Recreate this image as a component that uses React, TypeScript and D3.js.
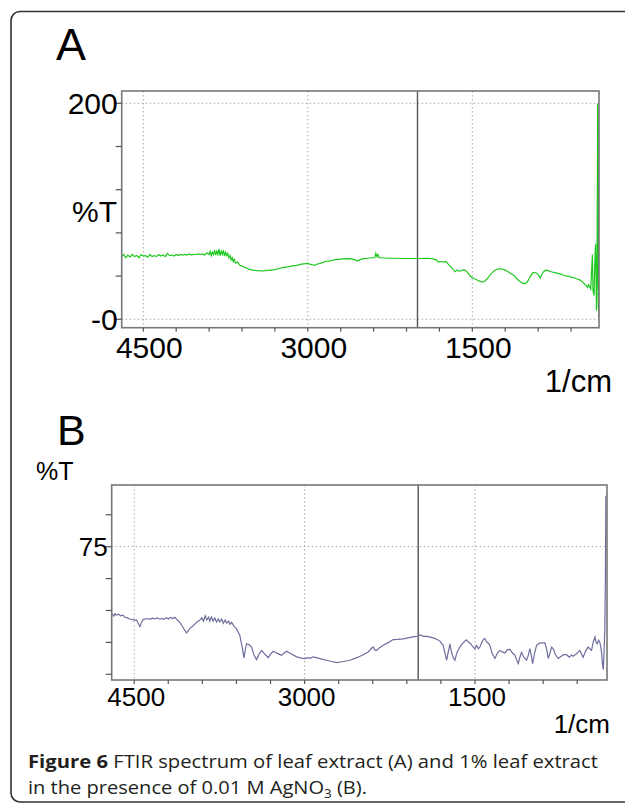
import React from "react";
import * as d3 from "d3";

// FTIR spectrum A (leaf extract) - wavenumber (1/cm) and %T
const aWave = [4700, 4680, 4660, 4640, 4620, 4600, 4580, 4560, 4540, 4520, 4500, 4480, 4460, 4440, 4420, 4400, 4380, 4360, 4340, 4320,
  4300, 4280, 4260, 4240, 4220, 4200, 4180, 4160, 4140, 4120, 4100, 4080, 4060, 4040, 4020, 4000, 3980, 3960, 3940, 3920,
  3900, 3890, 3880, 3870, 3860, 3850, 3840, 3830, 3820, 3810, 3800, 3790, 3780, 3770, 3760, 3750, 3740, 3730, 3720, 3710,
  3700, 3690, 3680, 3670, 3660, 3640, 3620, 3600, 3580, 3560, 3540, 3520, 3500, 3460, 3420, 3380, 3340, 3300, 3260, 3220,
  3180, 3140, 3100, 3060, 3020, 3000, 2980, 2960, 2940, 2920, 2880, 2840, 2800, 2760, 2720, 2680, 2640, 2600, 2570, 2550,
  2530, 2500, 2460, 2420, 2390, 2380, 2370, 2360, 2350, 2320, 2280, 2200, 2100, 2000, 1900, 1860, 1830, 1810, 1790, 1760,
  1740, 1720, 1700, 1680, 1660, 1640, 1620, 1600, 1580, 1560, 1540, 1520, 1500, 1470, 1440, 1410, 1390, 1360, 1330, 1300,
  1270, 1240, 1210, 1180, 1150, 1120, 1090, 1060, 1030, 1010, 990, 970, 950, 930, 910, 890, 880, 870, 850, 830,
  810, 780, 740, 700, 660, 640, 620, 600, 570, 550, 520, 500, 480, 460, 450, 440, 430, 420, 410, 405,
  400, 395, 390, 385, 380, 376, 372, 368, 364, 360, 357, 355, 353, 351, 349, 347];
const aT = [58, 60, 57, 59.5, 57.5, 60, 58, 59, 57, 60, 58.5, 59, 57.5, 60, 58, 59, 58, 60, 58.5, 59.5,
  58, 61, 59, 59.5, 58.5, 60, 59, 60, 59.5, 60, 59.5, 60.5, 59.5, 60, 60, 60.5, 60, 60.5, 59.5, 61.5,
  60, 63, 59, 62, 60, 64, 59.5, 63, 60, 65, 59, 63, 60, 64, 58.5, 62, 59, 61, 57, 59,
  55, 57, 53.5, 55.5, 52, 53, 50, 49.5, 48, 47.5, 46.5, 46, 45.5, 45, 44.8, 45, 45.5, 46, 47, 48,
  48.5, 49.5, 50, 51, 51.5, 51.8, 51, 50.5, 50, 51, 52, 53.5, 54, 55, 55.5, 56, 56.2, 56, 55, 54,
  55, 56, 56.5, 57, 57, 61, 58, 60, 57, 57, 56.5, 56.5, 56.3, 56.3, 56.5, 56, 55, 53, 53.5, 53,
  53.5, 51, 49, 47, 44, 45.5, 44.5, 45, 46, 45, 43, 40, 38.5, 37, 35.5, 34.5, 35, 38, 42, 45,
  46.5, 46.8, 46, 44.5, 42.5, 40.5, 37, 34.5, 33, 33.5, 36, 40, 43, 43.5, 42.5, 40, 38, 41, 44, 45.5,
  45, 44, 43, 42, 40.5, 40, 40, 39, 38.5, 37.5, 36.5, 35, 33, 31, 29.5, 32, 30, 28, 50, 60,
  27, 24, 22, 45, 62, 70, 40, 8, 30, 120, 200, 30, 195, 10, 150, 2];

// FTIR spectrum B (1% leaf extract + 0.01 M AgNO3)
const bWave = [4700, 4690, 4680, 4670, 4660, 4640, 4620, 4600, 4580, 4560, 4540, 4520, 4500, 4480, 4465, 4450, 4435, 4420, 4400, 4380,
  4360, 4340, 4320, 4300, 4280, 4260, 4240, 4215, 4200, 4180, 4160, 4142, 4120, 4098, 4070, 4039, 4010, 3981, 3950, 3922,
  3905, 3890, 3875, 3860, 3845, 3834, 3820, 3805, 3790, 3775, 3760, 3746, 3730, 3715, 3700, 3685, 3670, 3655, 3643, 3620,
  3599, 3570, 3550, 3534, 3520, 3511, 3490, 3467, 3445, 3423, 3400, 3379, 3350, 3320, 3300, 3276, 3240, 3203, 3180, 3159,
  3120, 3070, 3030, 2997, 2970, 2950, 2924, 2880, 2840, 2806, 2760, 2718, 2660, 2601, 2540, 2484, 2440, 2410, 2396, 2380,
  2366, 2340, 2308, 2260, 2220, 2180, 2132, 2100, 2058, 2020, 2000, 1985, 1950, 1920, 1897, 1860, 1830, 1809, 1795, 1780,
  1765, 1750, 1735, 1721, 1705, 1690, 1677, 1660, 1633, 1610, 1590, 1574, 1555, 1540, 1520, 1501, 1485, 1470, 1457, 1440,
  1425, 1413, 1395, 1380, 1369, 1350, 1325, 1300, 1281, 1260, 1237, 1215, 1193, 1170, 1149, 1135, 1120, 1105, 1090, 1070,
  1046, 1030, 1017, 1005, 993, 975, 958, 935, 910, 885, 870, 856, 840, 826, 810, 795, 768, 740, 720, 694,
  670, 650, 636, 610, 590, 577, 562, 548, 525, 504, 490, 474, 460, 444, 434, 424, 412, 401, 393, 386,
  378, 371, 364, 357, 352, 348, 345];
const bT = [43.6, 43, 42.3, 43.5, 42.8, 43.2, 42.5, 42.8, 41.8, 41.5, 41, 40.8, 40.5, 40.6, 39, 37.4, 39.5, 40.8, 41, 41.2,
  40.8, 41.4, 41, 41.5, 41, 41.2, 40.8, 41.6, 41, 41.7, 41.2, 41.8, 40.5, 39.4, 37, 34.4, 36.5, 37.8, 39.5, 40.5,
  41.5, 40, 42.5, 40.5, 41.8, 40, 42, 40, 41.5, 39.5, 41, 39.7, 41, 39, 40.5, 39, 40, 38.5, 39.4, 37.5,
  36.3, 33.2, 28, 22.7, 27, 29.3, 29, 27.8, 24, 21.9, 24.5, 26.2, 24.5, 22.8, 24.5, 25.8, 24.8, 23.9, 25, 25.8,
  24.6, 23.2, 22.6, 22.4, 22.8, 22.5, 23.2, 22.6, 22, 21.6, 21, 20.5, 21, 21.6, 22.8, 24.2, 25.5, 27.2, 27.8, 26.2,
  26.2, 27.5, 28.6, 30, 31.3, 31.4, 31.6, 32, 32.5, 32.8, 33, 33.5, 32.8, 32.8, 32.5, 32, 31.2, 30.6, 29.5, 28.6,
  25, 21.6, 25.5, 29.3, 25, 22.5, 21.6, 25, 27.8, 29.5, 30.5, 31.2, 30, 29.5, 28, 27, 28.5, 27, 27.8, 30,
  31.5, 31.7, 30, 29.5, 28.6, 25, 22.4, 25.2, 26.2, 25.5, 25, 26.5, 26.8, 25, 24, 22, 20, 23, 25.3, 23,
  21.6, 24, 27, 24, 20, 25, 28.6, 29.5, 29.8, 29.8, 27, 22.4, 25, 27.8, 27, 24.5, 22.4, 23.5, 24.2, 24.2,
  23, 24, 23.5, 24.5, 25.5, 26.2, 24.5, 23, 26, 27.8, 27, 26.2, 30, 32.5, 30, 29.3, 31, 30, 28, 25.3,
  20, 17.2, 25, 36.9, 60, 99, 98];

const aYTicks = [0, 40, 80, 120, 160, 200];
const aYLabels = [{ v: 200, t: "200" }, { v: 0, t: "-0" }];
const bYTicks = [15, 30, 45, 60, 75, 90];
const bYLabels = [{ v: 75, t: "75" }];
const xTicks = [4500, 4200, 3900, 3600, 3300, 3000, 2700, 2400, 2100, 1800, 1500, 1200, 900, 600];
const xLabels = [4500, 3000, 1500];
const cursorAt = 2000;

const font = "'Liberation Sans', Arial, sans-serif";

type PanelProps = {
  id: string;
  wave: number[];
  t: number[];
  color: string;
  box: { x0: number; x1: number; y0: number; y1: number };
  xDomain: [number, number];
  yDomain: [number, number];
  yTicks: number[];
  yLabels: { v: number; t: string }[];
  yGrid: number[];
  labelSize: number;
  xLabelDx: number;
  xLabelY: number;
};

function Panel(p: PanelProps) {
  const x = d3.scaleLinear().domain(p.xDomain).range([p.box.x0, p.box.x1]);
  const y = d3.scaleLinear().domain(p.yDomain).range([p.box.y1, p.box.y0]);
  const pts = p.wave.map((w, i) => [w, p.t[i]] as [number, number]);
  const line = d3.line<[number, number]>().x(d => x(d[0])).y(d => y(d[1]));
  const { x0, x1, y0, y1 } = p.box;
  return (
    <g>
      <defs>
        <clipPath id={"clip" + p.id}>
          <rect x={x0} y={y0} width={x1 - x0} height={y1 - y0} />
        </clipPath>
      </defs>
      {/* dotted grid */}
      {xLabels.map(v => (
        <line key={"gx" + v} x1={x(v)} x2={x(v)} y1={y0} y2={y1} stroke="#aaa" strokeWidth={1} strokeDasharray="1.5,2.5" />
      ))}
      {p.yGrid.map(v => (
        <line key={"gy" + v} x1={x0} x2={x1} y1={y(v)} y2={y(v)} stroke="#aaa" strokeWidth={1} strokeDasharray="1.5,2.5" />
      ))}
      <line x1={x(cursorAt)} x2={x(cursorAt)} y1={y0} y2={y1} stroke="#555" strokeWidth={1.4} />
      <path d={line(pts) || ""} fill="none" stroke={p.color} strokeWidth={1.2} clipPath={`url(#clip${p.id})`} />
      <rect x={x0} y={y0} width={x1 - x0} height={y1 - y0} fill="none" stroke="#777" strokeWidth={1.6} />
      {/* ticks */}
      {p.yTicks.map(v => (
        <line key={"ty" + v} x1={x0 - 6} x2={x0} y1={y(v)} y2={y(v)} stroke="#555" strokeWidth={1.2} />
      ))}
      {xTicks.map(v => (
        <line key={"tx" + v} x1={x(v)} x2={x(v)} y1={y1} y2={y1 + 4} stroke="#555" strokeWidth={1.2} />
      ))}
      {p.yLabels.map(l => (
        <text key={"ly" + l.v} x={x0 - 4} y={y(l.v)} dy="0.36em" textAnchor="end" fontFamily={font} fontSize={p.labelSize} fill="#000">
          {l.t}
        </text>
      ))}
      {xLabels.map(v => (
        <text key={"lx" + v} x={x(v) + p.xLabelDx} y={p.xLabelY} textAnchor="middle" fontFamily={font} fontSize={p.labelSize} fill="#000">
          {v}
        </text>
      ))}
    </g>
  );
}

export default function App() {
  return (
    <svg width={625} height={804} style={{ position: "absolute", left: 0, top: 0, background: "#fff" }}>
      <rect x={11} y={11.5} width={700} height={790.5} rx={9} fill="none" stroke="#333" strokeWidth={1.6} />

      <text x={56} y={60} fontFamily={font} fontSize={45} fill="#000">A</text>
      <text x={117} y={222} textAnchor="end" fontFamily={font} fontSize={30} fill="#000">%T</text>
      <Panel
        id="A" wave={aWave} t={aT} color="#1ec81e"
        box={{ x0: 121.7, x1: 599, y0: 91, y1: 327.7 }}
        xDomain={[4697, 345]} yDomain={[-7.8, 211.4]}
        yTicks={aYTicks} yLabels={aYLabels} yGrid={[0, 200]}
        labelSize={30} xLabelDx={6} xLabelY={358}
      />
      <text x={612} y={392} textAnchor="end" fontFamily={font} fontSize={31} fill="#000">1/cm</text>

      <text x={57} y={445} fontFamily={font} fontSize={43} fill="#000">B</text>
      <text x={36} y={480} fontFamily={font} fontSize={25} fill="#000">%T</text>
      <Panel
        id="B" wave={bWave} t={bT} color="#6e6e9e"
        box={{ x0: 111.7, x1: 607, y0: 485, y1: 680 }}
        xDomain={[4698, 338]} yDomain={[12.3, 104]}
        yTicks={bYTicks} yLabels={bYLabels} yGrid={[75]}
        labelSize={26} xLabelDx={2} xLabelY={706}
      />
      <text x={610} y={733} textAnchor="end" fontFamily={font} fontSize={26} fill="#000">1/cm</text>

      <g fontFamily="'Open Sans', 'Noto Sans', sans-serif" fontSize={18} fill="#231f20">
        <text x={28} y={768} textLength={570} lengthAdjust="spacingAndGlyphs">
          <tspan fontWeight="bold">Figure 6</tspan> FTIR spectrum of leaf extract (A) and 1% leaf extract
        </text>
        <text x={28} y={794} textLength={339} lengthAdjust="spacingAndGlyphs">
          in the presence of 0.01 M AgNO<tspan fontSize={12} dy={4}>3</tspan><tspan dy={-4}> (B).</tspan>
        </text>
      </g>
    </svg>
  );
}
